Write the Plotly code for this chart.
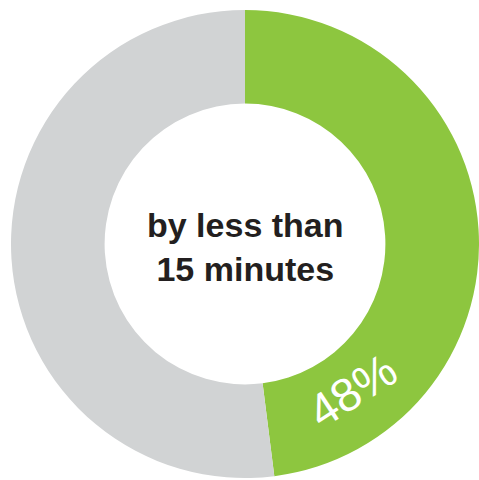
import plotly.graph_objects as go

labels = ["by less than 15 minutes", "other"]
values = [48, 52]
colors = ["#8dc63f", "#d1d3d4"]
center_text = "by less than<br>15 minutes"

fig = go.Figure(go.Pie(
    labels=labels,
    values=values,
    hole=0.6,
    sort=False,
    direction="clockwise",
    rotation=0,
    marker=dict(colors=colors, line=dict(width=0)),
    textinfo="none",
    hoverinfo="none",
    showlegend=False,
    domain=dict(x=[11/479, 479/479], y=[2/480, 470/480]),
))

fig.add_annotation(
    x=245/479, y=1-247/480, xref="paper", yref="paper",
    xanchor="center", yanchor="middle",
    text=center_text, showarrow=False,
    font=dict(family="Liberation Sans, Arial, sans-serif", size=34, color="#231f20", weight="bold"),
    align="center",
)
fig.add_annotation(
    x=352/479, y=1-390/480, xref="paper", yref="paper",
    xanchor="center", yanchor="middle",
    text=str(values[0]) + "%", showarrow=False, textangle=-33,
    font=dict(family="Liberation Sans, Arial, sans-serif", size=47, color="#ffffff"),
)

fig.update_layout(
    width=479, height=480,
    margin=dict(l=0, r=0, t=0, b=0),
    paper_bgcolor="white", plot_bgcolor="white",
)

fig.write_html("out.html")
